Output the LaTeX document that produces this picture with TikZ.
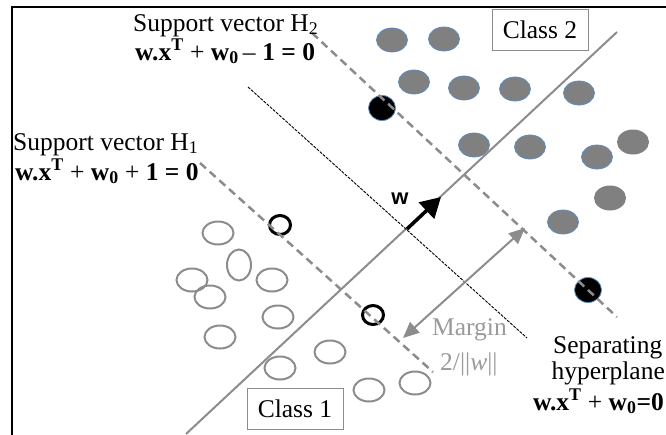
\documentclass[tikz,border=0pt]{standalone}
\usepackage{fontspec}
\setmainfont{Liberation Serif}
\newfontfamily\sansfont{Liberation Sans}
\usetikzlibrary{arrows.meta,shapes.geometric}
\definecolor{lgray}{HTML}{8C8C8C}
\definecolor{fgray}{HTML}{808080}
\definecolor{blueedge}{HTML}{5B8DC0}
\definecolor{mgray}{HTML}{9A9A9A}
\begin{document}
\begin{tikzpicture}[x=1pt,y=-1pt,
  c2/.style={ellipse, fill=fgray, draw=blueedge, line width=0.8pt, minimum width=31pt, minimum height=24pt, inner sep=0pt},
  c2n/.style={ellipse, fill=fgray, minimum width=32pt, minimum height=25pt, inner sep=0pt},
  c2b/.style={ellipse, fill=black, draw=blueedge, line width=0.8pt, minimum width=27pt, minimum height=25pt, inner sep=0pt},
  c1/.style={ellipse, draw=lgray, line width=2pt, minimum width=31pt, minimum height=23pt, inner sep=0pt},
  c1v/.style={c1, minimum width=24pt, minimum height=31pt},
  c1b/.style={ellipse, draw=black, line width=3pt, minimum width=21pt, minimum height=19pt, inner sep=0pt},
  txt/.style={inner sep=0pt, anchor=base west, font=\fontsize{25.5}{29}\selectfont},
  classbox/.style={draw=lgray, line width=1pt, minimum width=96pt, minimum height=41pt, inner sep=0pt, font=\fontsize{25.5}{29}\selectfont},
  hline/.style={draw=lgray, line width=2.5pt, dash pattern=on 8pt off 5pt},
  sepline/.style={draw=black, line width=0.9pt, dash pattern=on 3pt off 1.2pt},
  wline/.style={draw=lgray, line width=2pt},
  frame/.style={draw=black, line width=1.2pt}]
\useasboundingbox (0,0) rectangle (666,434);
% frame
\coordinate (fr1) at (12,435);
\coordinate (fr2) at (12,7);
\coordinate (fr3) at (667,7);
\draw[frame] (fr1) -- (fr2) -- (fr3);
% class 2 points
\node[c2] (p1) at (392,40) {};
\node[c2] (p2) at (444,39) {};
\node[c2] (p3) at (414,82) {};
\node[c2] (p4) at (464,88) {};
\node[c2] (p5) at (515,89) {};
\node[c2] (p6) at (579,93) {};
\node[c2] (p7) at (474,145) {};
\node[c2] (p8) at (530,147) {};
\node[c2] (p9) at (597,157) {};
\node[c2n] (p10) at (633,142) {};
\node[c2n] (p11) at (610,198) {};
\node[c2] (p12) at (563,222) {};
\node[c2b] (s1) at (382,108) {};
\node[c2b] (s2) at (588,290) {};
% class 1 points
\node[c1] (q1) at (218,233) {};
\node[c1v] (q2) at (239,265) {};
\node[c1] (q3) at (192,280) {};
\node[c1] (q4) at (210,297) {};
\node[c1] (q5) at (272,280) {};
\node[c1] (q6) at (278,317) {};
\node[c1] (q7) at (220,337) {};
\node[c1] (q8) at (280,368) {};
\node[c1] (q9) at (330,352) {};
\node[c1] (q10) at (369,390) {};
\node[c1] (q11) at (415,383) {};
\node[c1b] (t1) at (280,225) {};
\node[c1b] (t2) at (373,315) {};
% lines
\coordinate (h2a) at (312,33);
\coordinate (h2b) at (617,317);
\coordinate (h1a) at (200,163);
\coordinate (h1b) at (433,372);
\coordinate (sa) at (248,87);
\coordinate (sb) at (527,338);
\coordinate (wa) at (617,32);
\coordinate (wb) at (186,434);
\draw[wline] (wa) -- (wb);
\draw[sepline] (sa) -- (sb);
\draw[hline] (h2a) -- (h2b);
\draw[hline] (h1a) -- (h1b);
% w arrow
\coordinate (wv0) at (407,229);
\coordinate (wv1) at (441,197);
\draw[line width=3.5pt, -{Triangle[length=20pt,width=22pt]}] (wv0) -- (wv1);
\node[inner sep=0pt, font=\sansfont\bfseries\fontsize{22}{24}\selectfont] (wlab) at (400,199) {w};
% margin arrow
\coordinate (m1) at (403,338);
\coordinate (m2) at (525,228);
\draw[draw=lgray, fill=lgray, line width=2pt, {Triangle[length=16pt,width=14pt]}-{Triangle[length=16pt,width=14pt]}] (m1) -- (m2);
% texts
\node[txt] (sv2) at (133,31) {Support vector H\textsubscript{2}};
\node[txt] (eq2) at (135,60) {\textbf{w.x}\textsuperscript{\textbf{T}} + \textbf{w}\textsubscript{\textbf{0}}\,– \textbf{1 = 0}};
\node[txt] (sv1) at (13,150) {Support vector H\textsubscript{1}};
\node[txt] (eq1) at (15,180) {\textbf{w.x}\textsuperscript{\textbf{T}} + \textbf{w}\textsubscript{\textbf{0}} + \textbf{1 = 0}};
\node[txt, text=mgray] (mg1) at (432,335) {Margin};
\node[txt, text=mgray] (mg2) at (440,370) {2/||\textit{w}||};
\node[txt] (sp1) at (553,353) {Separating};
\node[txt, anchor=base east] (sp2) at (665,379) {hyperplane};
\node[txt, anchor=base east] (sp3) at (664,410) {\textbf{w.x}\textsuperscript{\textbf{T}} + \textbf{w}\textsubscript{\textbf{0}}\textbf{=0}};
\node[classbox] (cl2) at (540,29.5) {Class 2};
\node[classbox] (cl1) at (295,408.5) {Class 1};
\end{tikzpicture}
\end{document}
